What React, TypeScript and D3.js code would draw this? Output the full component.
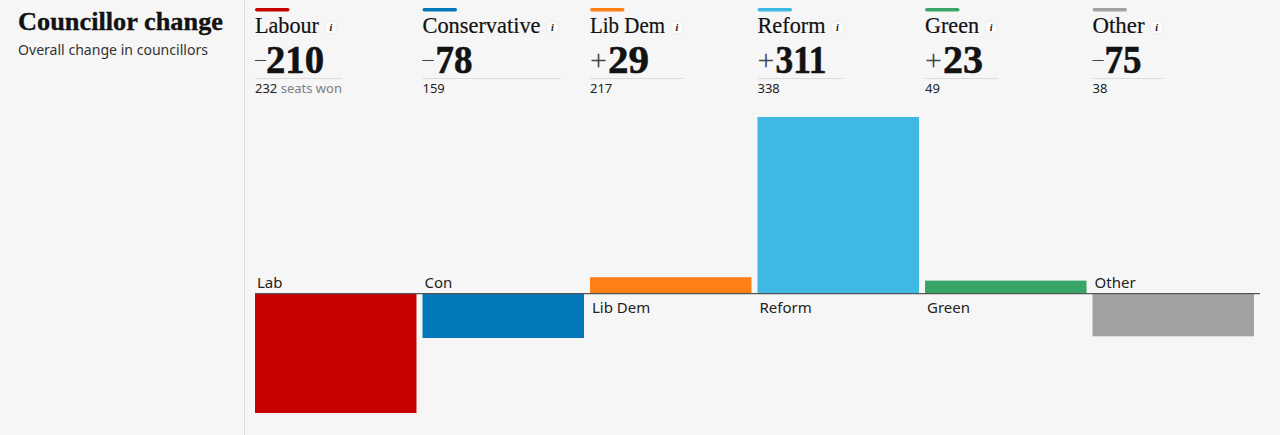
import React from 'react';
import * as d3 from 'd3';

const parties = ['Labour', 'Conservative', 'Lib Dem', 'Reform', 'Green', 'Other'];
const shortNames = ['Lab', 'Con', 'Lib Dem', 'Reform', 'Green', 'Other'];
const changes = [-210, -78, 29, 311, 23, -75];
const seatsWon = [232, 159, 217, 338, 49, 38];
const colours = ['#c70000', '#0077b6', '#ff7f17', '#3db9e3', '#39a566', '#a2a2a2'];

const WIDTH = 1280;
const HEIGHT = 435;
const BG = '#f6f6f6';
const INK = '#121212';
const SERIF = '"Liberation Serif", serif';
const SANS = '"Noto Sans", sans-serif';

// header widths follow the reference's own headline face, which isn't installed
const nameWidths = [64, 118, 75, 68, 54, 52];
const ruleWidths = [87, 138, 94, 86, 73, 71];
const numberWidths = [58, 37, 41, 51, 40, 37];
const numberOffsets = [11, 13, 18, 18, 18, 12];

const x = d3.scaleBand<string>().domain(parties).range([255, 1254]).paddingInner(0.036);
const y = d3.scaleLinear().domain([-210, 311]).range([413, 117]);

const App: React.FC = () => {
  const zero = y(0);
  return (
    <svg
      width={WIDTH}
      height={HEIGHT}
      viewBox={`0 0 ${WIDTH} ${HEIGHT}`}
      style={{ position: 'absolute', left: 0, top: 0, display: 'block', background: BG }}
    >
      <line x1={244.5} x2={244.5} y1={0} y2={HEIGHT} stroke="#dcdcdc" />

      <text x={18} y={30} fontFamily={SERIF} fontWeight={700} fontSize={26} fill={INK} stroke={INK} strokeWidth={0.35} textLength={205} lengthAdjust="spacingAndGlyphs">
        Councillor change
      </text>
      <text x={18} y={55} fontFamily={SANS} fontSize={14} fill="#333" textLength={190} lengthAdjust="spacingAndGlyphs">
        Overall change in councillors
      </text>

      {parties.map((p, i) => {
        const left = x(p) as number;
        const v = changes[i];
        const barTop = y(Math.max(v, 0));
        const barBottom = y(Math.min(v, 0));
        return (
          <g key={p}>
            <rect x={left} y={8} width={34.5} height={3.5} rx={1.75} fill={colours[i]} />
            <text x={left} y={33} fontFamily={SERIF} fontSize={23} fill={INK} stroke={INK} strokeWidth={0.2} textLength={nameWidths[i]} lengthAdjust="spacingAndGlyphs">
              {p}
            </text>
            <circle cx={left + nameWidths[i] + 12} cy={27.5} r={6.5} fill="#fcfcfc" stroke="#ececec" />
            <text x={left + nameWidths[i] + 12} y={31} textAnchor="middle" fontFamily={SERIF} fontStyle="italic" fontWeight={700} fontSize={10} fill={INK}>
              i
            </text>

            {v < 0 ? (
              <text x={left} y={66} fontFamily={SERIF} fontSize={22} fill="#444">
                {'\u2013'}
              </text>
            ) : (
              <text x={left} y={70} fontFamily={SERIF} fontSize={30} fill="#444">
                +
              </text>
            )}
            <text
              x={left + numberOffsets[i]}
              y={73}
              fontFamily={SERIF}
              fontWeight={700}
              fontSize={40}
              fill={INK}
              stroke={INK}
              strokeWidth={0.6}
              textLength={numberWidths[i]}
              lengthAdjust="spacingAndGlyphs"
            >
              {Math.abs(v)}
            </text>
            <line x1={left} x2={left + ruleWidths[i]} y1={78.5} y2={78.5} stroke="#dcdcdc" />
            <text x={left} y={93} fontFamily={SANS} fontSize={13} fill="#222">
              {seatsWon[i]}
              {i === 0 && <tspan fill="#808080"> seats won</tspan>}
            </text>

            <rect x={left} y={barTop} width={x.bandwidth()} height={barBottom - barTop} fill={colours[i]} />
            <text
              x={left + 2}
              y={v < 0 ? zero - 6 : zero + 19}
              fontFamily={SANS}
              fontSize={15}
              fill="#222"
            >
              {shortNames[i]}
            </text>
          </g>
        );
      })}

      <line x1={255} x2={1260} y1={zero} y2={zero} stroke="#555" strokeWidth={1.2} />
    </svg>
  );
};

export default App;
